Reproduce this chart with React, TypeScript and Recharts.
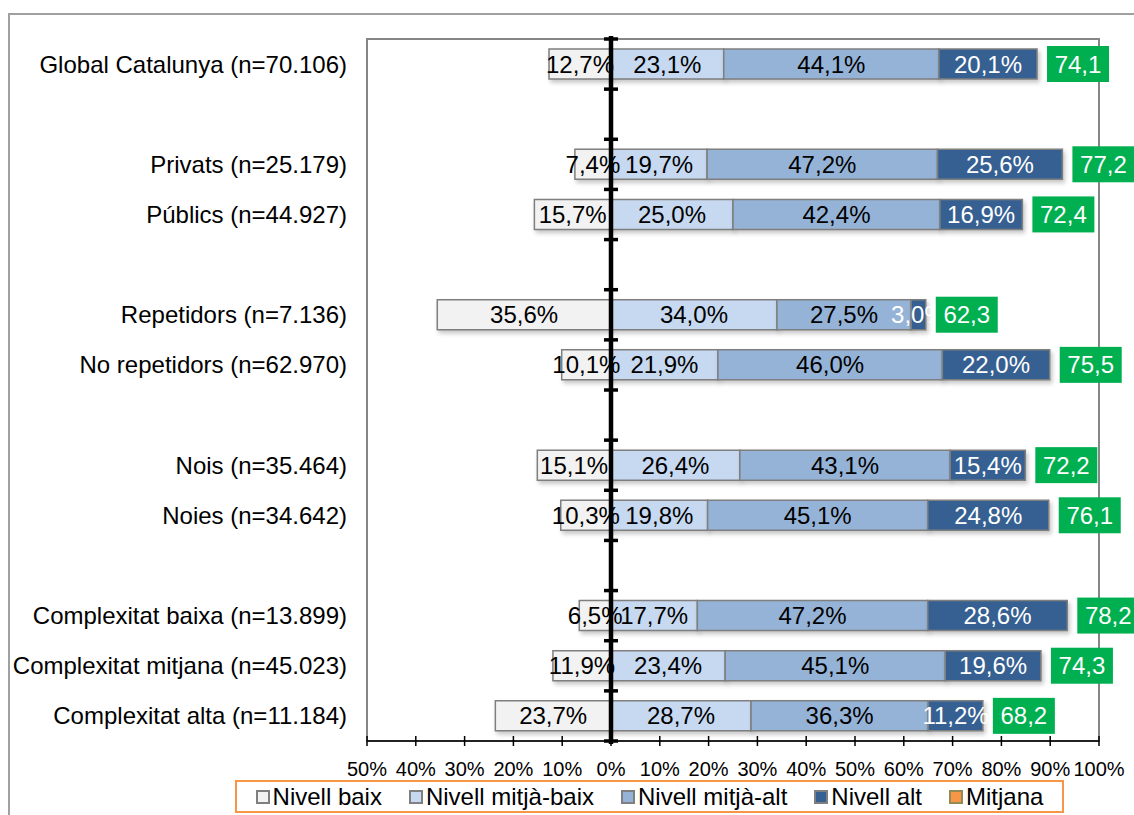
import {
  ComposedChart,
  Bar,
  XAxis,
  YAxis,
  LabelList,
  ReferenceLine,
  ReferenceArea,
  Rectangle,
} from 'recharts'

const categories = [
  'Global Catalunya (n=70.106)',
  '',
  'Privats (n=25.179)',
  'Públics (n=44.927)',
  ' ',
  'Repetidors (n=7.136)',
  'No repetidors (n=62.970)',
  '  ',
  'Nois (n=35.464)',
  'Noies (n=34.642)',
  '   ',
  'Complexitat baixa (n=13.899)',
  'Complexitat mitjana (n=45.023)',
  'Complexitat alta (n=11.184)',
]

const nivellBaix = [12.7, null, 7.4, 15.7, null, 35.6, 10.1, null, 15.1, 10.3, null, 6.5, 11.9, 23.7]
const nivellMitjaBaix = [23.1, null, 19.7, 25.0, null, 34.0, 21.9, null, 26.4, 19.8, null, 17.7, 23.4, 28.7]
const nivellMitjaAlt = [44.1, null, 47.2, 42.4, null, 27.5, 46.0, null, 43.1, 45.1, null, 47.2, 45.1, 36.3]
const nivellAlt = [20.1, null, 25.6, 16.9, null, 3.0, 22.0, null, 15.4, 24.8, null, 28.6, 19.6, 11.2]
const mitjana = [74.1, null, 77.2, 72.4, null, 62.3, 75.5, null, 72.2, 76.1, null, 78.2, 74.3, 68.2]

const xTicks = [-50, -40, -30, -20, -10, 0, 10, 20, 30, 40, 50, 60, 70, 80, 90, 100]

const data = categories.map((name, i) => ({
  name,
  baix: nivellBaix[i] == null ? null : -(nivellBaix[i] as number),
  mitjaBaix: nivellMitjaBaix[i],
  mitjaAlt: nivellMitjaAlt[i],
  alt: nivellAlt[i],
  mitjana: mitjana[i],
}))

const FONT = '"Liberation Sans", Arial, sans-serif'
const BORDER = '#7f7f7f'

const legendItems = [
  { name: 'Nivell baix', color: '#f2f2f2', border: BORDER },
  { name: 'Nivell mitjà-baix', color: '#c6d9f1', border: BORDER },
  { name: 'Nivell mitjà-alt', color: '#95b3d7', border: BORDER },
  { name: 'Nivell alt', color: '#366092', border: BORDER },
  { name: 'Mitjana', color: '#f79646', border: '#948a54' },
]

const pct = (v: any) => (v == null ? '' : Math.abs(v).toFixed(1).replace('.', ',') + '%')

const shadowShape = (p: any) => (
  <g style={{ filter: 'drop-shadow(2px 3px 2px rgba(0,0,0,0.22))' }}>
    <Rectangle {...p} />
  </g>
)

function XTick(props: any) {
  const { x, y, payload } = props
  return (
    <g>
      <line x1={x} x2={x} y1={y - 5} y2={y + 5} stroke="#000" strokeWidth={1.5} />
      <text x={x} y={y + 35} textAnchor="middle" fontSize={20} fill="#000">
        {Math.abs(payload.value) + '%'}
      </text>
    </g>
  )
}

function ZeroAxis(props: any) {
  const { x1, y1, y2 } = props
  const top = Math.min(y1, y2)
  const bottom = Math.max(y1, y2)
  const step = (bottom - top) / categories.length
  const marks = categories.map((_, i) => top + i * step).concat([bottom])
  return (
    <g>
      <line x1={x1} x2={x1} y1={top - 3} y2={bottom + 3} stroke="#000" strokeWidth={4.5} />
      {marks.map((my, i) => (
        <line key={i} x1={x1 - 7} x2={x1 + 7} y1={my} y2={my} stroke="#000" strokeWidth={3.5} />
      ))}
    </g>
  )
}

function MitjanaLabel(props: any) {
  const { x, y, width, height, value } = props
  if (value == null) return null
  const bx = x + width + 10
  const cy = y + height / 2
  return (
    <g>
      <rect x={bx} y={cy - 18} width={62} height={36} fill="#00b050" />
      <text x={bx + 31} y={cy + 8.5} textAnchor="middle" fontSize={24} fill="#fff">
        {value.toFixed(1).replace('.', ',')}
      </text>
    </g>
  )
}

export default function App() {
  return (
    <div
      style={{
        position: 'absolute',
        left: 0,
        top: 0,
        width: 1134,
        height: 815,
        overflow: 'hidden',
        background: '#fff',
        fontFamily: FONT,
      }}
    >
      {/* moldura exterior */}
      <div
        style={{
          position: 'absolute',
          left: 8,
          top: 13,
          width: 1200,
          height: 900,
          border: '2px solid #a0a0a0',
        }}
      />

      <div style={{ position: 'absolute', left: 0, top: 0 }}>
        <ComposedChart
          width={1134}
          height={815}
          data={data}
          layout="vertical"
          stackOffset="sign"
          barSize={30}
          margin={{ top: 39, right: 35, bottom: 34, left: 0 }}
          style={{ fontFamily: FONT }}
        >
          <ReferenceArea x1={-50} x2={100} fill="none" stroke="#868686" strokeWidth={2} ifOverflow="visible" />
          <XAxis
            type="number"
            domain={[-50, 100]}
            ticks={xTicks}
            interval={0}
            height={40}
            tickLine={false}
            tickSize={0}
            tickMargin={0}
            axisLine={{ stroke: '#000', strokeWidth: 1.5 }}
            tick={<XTick />}
            allowDataOverflow
          />
          <YAxis
            type="category"
            dataKey="name"
            width={367}
            interval={0}
            tickLine={false}
            axisLine={false}
            tickMargin={14}
            tick={{ fontSize: 24, fill: '#000' }}
          />
          <Bar dataKey="baix" name="Nivell baix" stackId="a" fill="#f2f2f2" stroke={BORDER} strokeWidth={1.5} shape={shadowShape} isAnimationActive={false}>
            <LabelList dataKey="baix" position="center" formatter={pct} fontSize={24} fill="#000" />
          </Bar>
          <Bar dataKey="mitjaBaix" name="Nivell mitjà-baix" stackId="a" fill="#c6d9f1" stroke={BORDER} strokeWidth={1.5} shape={shadowShape} isAnimationActive={false}>
            <LabelList dataKey="mitjaBaix" position="center" formatter={pct} fontSize={24} fill="#000" />
          </Bar>
          <Bar dataKey="mitjaAlt" name="Nivell mitjà-alt" stackId="a" fill="#95b3d7" stroke={BORDER} strokeWidth={1.5} shape={shadowShape} isAnimationActive={false}>
            <LabelList dataKey="mitjaAlt" position="center" formatter={pct} fontSize={24} fill="#000" />
          </Bar>
          <Bar dataKey="alt" name="Nivell alt" stackId="a" fill="#366092" stroke={BORDER} strokeWidth={1.5} shape={shadowShape} isAnimationActive={false}>
            <LabelList dataKey="alt" position="center" formatter={pct} fontSize={24} fill="#fff" />
            <LabelList dataKey="mitjana" content={<MitjanaLabel />} />
          </Bar>
          <ReferenceLine x={0} stroke="#000" shape={(p: any) => <ZeroAxis {...p} />} ifOverflow="visible" />
        </ComposedChart>
      </div>

      {/* Llegenda */}
      <div
        style={{
          position: 'absolute',
          left: 235,
          top: 780,
          width: 829,
          height: 33,
          boxSizing: 'border-box',
          border: '2px solid #f79646',
          display: 'flex',
          alignItems: 'center',
          justifyContent: 'center',
          gap: 27,
          fontSize: 24,
          color: '#000',
        }}
      >
        {legendItems.map((it) => (
          <div key={it.name} style={{ display: 'flex', alignItems: 'center', gap: 3 }}>
            <span
              style={{
                width: 10,
                height: 10,
                background: it.color,
                border: `2px solid ${it.border}`,
                display: 'inline-block',
              }}
            />
            <span>{it.name}</span>
          </div>
        ))}
      </div>
    </div>
  )
}
